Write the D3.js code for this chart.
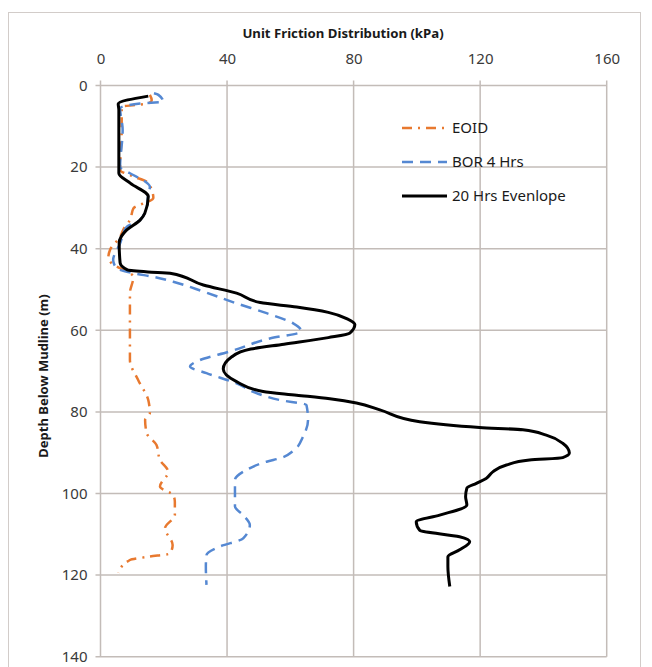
<!DOCTYPE html>
<html>
<head>
<meta charset="utf-8">
<script src="https://cdn.jsdelivr.net/npm/d3@7"></script>
<style>
  body { margin: 0; background: #fff; }
  svg { display: block; font-family: "Noto Sans", "Open Sans", sans-serif; }
</style>
</head>
<body>
<div id="chart"></div>
<script>
// tick values
const xTicks = [0, 40, 80, 120, 160]
const yTicks = [0, 20, 40, 60, 80, 100, 120, 140]

// series names
const seriesNames = ['EOID', 'BOR 4 Hrs', '20 Hrs Evenlope']

// EOID (depth m, unit friction kPa)
const eoidDepth = [2.3, 3.6, 4.4, 4.8, 5.2, 10.9, 20.7, 22.3, 23.6, 25.6, 27.6, 30.1, 33, 34.6, 37.1, 40.3, 42, 43.6, 44.8, 46.9, 50.9, 59.9, 67.3, 72.2, 77.1, 80.3, 82, 85.2, 88.1, 91.8, 94.7, 98.3, 100.4, 102, 105.3, 108.5, 112.6, 114.7, 115.5, 116.3, 119.4]
const eoidFriction = [15.6, 16.2, 15.1, 10.9, 6.7, 6.7, 6.2, 10.4, 14.6, 16.2, 16.7, 10.4, 9.3, 7.7, 6.2, 3, 2.5, 3.5, 6.2, 10.4, 9.3, 9.3, 9.3, 11.9, 15.1, 15.6, 14.1, 14.6, 17.7, 18.8, 21.4, 18.8, 23, 23.5, 23.5, 20.4, 22.8, 22, 15.1, 9.3, 5.6]

// BOR 4 Hrs
const borDepth = [1.9, 2.3, 4, 4.4, 5.6, 10.9, 19.9, 21.5, 23.2, 24.8, 26.8, 29.7, 33, 34.6, 38.7, 42.8, 44.8, 46, 46.9, 48.1, 50.5, 53.4, 55.8, 58.3, 60.3, 62, 65.2, 67.3, 68.9, 70.5, 73, 75.4, 77.1, 78.3, 82, 86.1, 89.5, 91.3, 92.2, 94.2, 96.7, 99.9, 103.2, 105.3, 107.7, 111, 113, 115.1, 117.9, 122.4]
const borFriction = [16.9, 18.3, 19.8, 12.5, 6.2, 7, 6.2, 9.3, 13.5, 15.6, 15.1, 14.6, 12.5, 8.3, 6.2, 4, 5.1, 10.4, 16.7, 23, 32.5, 43, 52.5, 60.9, 63.5, 53.5, 40.9, 31.4, 28.3, 33.5, 43, 49.3, 56.7, 65.1, 65.6, 64, 61, 57, 52.5, 46.2, 42.5, 42.5, 42.5, 45.1, 47.2, 45.1, 37.7, 33.5, 33.3, 33.5]

// 20 Hrs Evenlope
const envDepth = [2.6, 4.5, 6, 14, 21.5, 24, 27.2, 31.3, 33, 35.4, 38.6, 43.5, 45.2, 45.7, 46, 48.9, 50.9, 53.2, 54.3, 55.6, 57.2, 58.6, 60.7, 61.8, 63.4, 64.6, 66.5, 69.5, 72.6, 75, 75.9, 76.8, 77.8, 79.5, 82.4, 83.8, 84.4, 85.7, 87.7, 90.1, 91.2, 91.8, 93, 94.7, 96.3, 97.5, 98.7, 100.8, 102.8, 105.3, 106.9, 109, 110.6, 111.8, 113.8, 115.5, 117.9, 122.8]
const envFriction = [15.1, 5.6, 5.8, 5.8, 5.8, 9.5, 15.1, 14, 12.5, 8.3, 5.9, 6.2, 8.5, 15, 22, 32.5, 43, 50.5, 62, 72, 78, 80.4, 78.8, 72, 58, 47.5, 41.5, 38.8, 43, 51.4, 62, 72.5, 80.9, 88.3, 100.9, 119.8, 133.5, 140.9, 146.1, 148.2, 146.1, 135.6, 128.3, 124, 121.9, 118.8, 115.8, 115.4, 115.8, 107.2, 99.8, 100.9, 113.5, 116.7, 113.5, 109.8, 109.8, 110.4]

const W = 652
const H = 667
const margin = { top: 85.5, left: 100.5, right: 45.3, bottom: 10.3 }
const width = W - margin.left - margin.right
const height = H - margin.top - margin.bottom

const gridColor = '#c3bcb8'

let svg = d3.select('#chart')
	.append('svg')
	.attr('width', W)
	.attr('height', H)

// outer chart border
svg.append('rect')
	.attr('x', 8.5)
	.attr('y', 12.5)
	.attr('width', 632)
	.attr('height', 670)
	.attr('fill', 'none')
	.attr('stroke', '#d2ccc9')
	.attr('stroke-width', 1)

let g = svg.append('g')
	.attr('transform', 'translate(' + margin.left + ',' + margin.top + ')')

let xScale = d3.scaleLinear()
	.domain([0, 160])
	.range([0, width])

let yScale = d3.scaleLinear()
	.domain([0, 140])
	.range([0, height])

// vertical gridlines
g.append('g')
	.selectAll('line')
	.data(xTicks)
	.join('line')
	.attr('x1', d => xScale(d))
	.attr('x2', d => xScale(d))
	.attr('y1', -5)
	.attr('y2', height)
	.attr('stroke', gridColor)
	.attr('stroke-width', 1.5)

// horizontal gridlines
g.append('g')
	.selectAll('line')
	.data(yTicks)
	.join('line')
	.attr('x1', -5)
	.attr('x2', width)
	.attr('y1', d => yScale(d))
	.attr('y2', d => yScale(d))
	.attr('stroke', gridColor)
	.attr('stroke-width', 1.5)

// x axis labels (top)
let xAxis = d3.axisTop(xScale).tickValues(xTicks).tickSize(0).tickPadding(22)
g.append('g')
	.attr('class', 'x-axis')
	.call(xAxis)
	.call(a => a.select('.domain').remove())
	.selectAll('text')
	.attr('font-size', 15)
	.attr('fill', '#3a3a3a')
	.attr('font-family', '"Noto Sans", sans-serif')

// y axis labels
let yAxis = d3.axisLeft(yScale).tickValues(yTicks).tickSize(0).tickPadding(13)
g.append('g')
	.attr('class', 'y-axis')
	.call(yAxis)
	.call(a => a.select('.domain').remove())
	.selectAll('text')
	.attr('font-size', 15)
	.attr('fill', '#3a3a3a')
	.attr('font-family', '"Noto Sans", sans-serif')

// title
svg.append('text')
	.attr('x', 343)
	.attr('y', 38)
	.attr('text-anchor', 'middle')
	.attr('font-size', 13.2)
	.attr('font-weight', 'bold')
	.attr('fill', '#1a1a1a')
	.text('Unit Friction Distribution (kPa)')

// y title
svg.append('text')
	.attr('transform', 'translate(48,376) rotate(-90)')
	.attr('text-anchor', 'middle')
	.attr('font-size', 13)
	.attr('font-weight', 'bold')
	.attr('fill', '#1a1a1a')
	.text('Depth Below Mudline (m)')

const series = [
	{ name: seriesNames[0], depth: eoidDepth, val: eoidFriction, color: '#e8792f', dash: '10,6,2,6', w: 2.5 },
	{ name: seriesNames[1], depth: borDepth, val: borFriction, color: '#5588d2', dash: '11,7', w: 2.5 },
	{ name: seriesNames[2], depth: envDepth, val: envFriction, color: '#000', dash: null, w: 3 }
]

// depth always increases along a series, so a monotone curve in y keeps the tips round
let line = d3.line()
	.x(d => xScale(d[1]))
	.y(d => yScale(d[0]))
	.curve(d3.curveMonotoneY)

series.forEach(s => {
	g.append('path')
		.datum(d3.zip(s.depth, s.val))
		.attr('d', line)
		.attr('fill', 'none')
		.attr('stroke', s.color)
		.attr('stroke-width', s.w)
		.attr('stroke-dasharray', s.dash)
		.attr('stroke-linejoin', 'round')
})

// legend
let legend = svg.append('g')
	.attr('transform', 'translate(402,128)')

series.forEach((s, i) => {
	let row = legend.append('g')
		.attr('transform', 'translate(0,' + (i * 34) + ')')
	row.append('line')
		.attr('x1', 0)
		.attr('x2', 45)
		.attr('stroke', s.color)
		.attr('stroke-width', s.w)
		.attr('stroke-dasharray', s.dash)
	row.append('text')
		.attr('x', 50)
		.attr('y', 5)
		.attr('font-size', 15)
		.attr('fill', '#1a1a1a')
		.text(s.name)
})
</script>
</body>
</html>
